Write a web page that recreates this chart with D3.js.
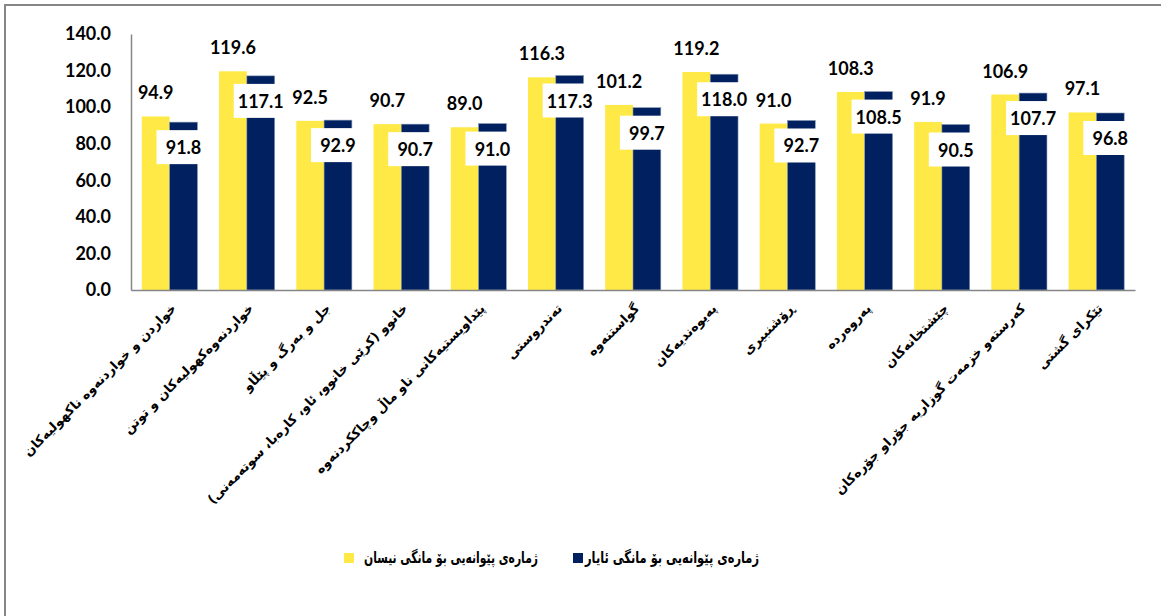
<!DOCTYPE html>
<html>
<head>
<meta charset="utf-8">
<script src="https://cdn.jsdelivr.net/npm/d3@7"></script>
<style>
  body { margin: 0; background: #fff; }
  svg text { font-family: Lato, "DejaVu Sans", sans-serif; font-weight: bold; }
  .catlabel { font-family: "DejaVu Sans", sans-serif; }
</style>
</head>
<body>
<svg id="chart" width="1161" height="616"></svg>
<script>
const categories = [
    "خواردن و خواردنەوە ناکهولیەکان",
    "خواردنەوەکهولیەکان و توتن",
    "جل و بەرگ و پێڵاو",
    "خانوو (کرێی خانوو، ئاو، کارەبا، سوتەمەنی)",
    "پێداویستیەکانی ناو ماڵ وچاککردنەوە",
    "تەندروستی",
    "گواستنەوە",
    "پەیوەندیەکان",
    "ڕۆشنبیری",
    "پەروەردە",
    "چێشتخانەکان",
    "کەرستەو خزمەت گوزاریە جۆراو جۆرەکان",
    "تێکرای گشتی"
];
const nisanValues = [94.9, 119.6, 92.5, 90.7, 89.0, 116.3, 101.2, 119.2, 91.0, 108.3, 91.9, 106.9, 97.1];
const ayarValues = [91.8, 117.1, 92.9, 90.7, 91.0, 117.3, 99.7, 118.0, 92.7, 108.5, 90.5, 107.7, 96.8];
const seriesNames = ["ژمارەی پێوانەیی بۆ مانگی نیسان", "ژمارەی پێوانەیی بۆ مانگی ئایار"];
const yTicks = [0, 20, 40, 60, 80, 100, 120, 140];

const svg = d3.select("svg#chart");
const colors = ["#FFE946", "#002060"];
const margin = { top: 34, left: 131 };
const plotRight = 1135;
const plotBottom = 290;

// outer frame (left + top edges only)
svg.append("path")
    .attr("d", "M5,616 V5 H1161")
    .attr("fill", "none")
    .attr("stroke", "#868686")
    .attr("stroke-width", 2);

const x = d3.scaleBand().domain(categories).range([margin.left, plotRight])
    .paddingInner(0.28).paddingOuter(0.14);
const xs = d3.scaleBand().domain([0, 1]).range([0, x.bandwidth()]);
const y = d3.scaleLinear().domain([0, 140]).range([plotBottom, margin.top]);

const series = [nisanValues, ayarValues];

// bars
series.forEach((vals, si) => {
    svg.append("g").selectAll("rect")
        .data(vals)
        .join("rect")
        .attr("x", (d, i) => x(categories[i]) + xs(si))
        .attr("y", d => y(d))
        .attr("width", xs.bandwidth())
        .attr("height", d => plotBottom - y(d))
        .attr("fill", colors[si])
        .attr("stroke", si === 1 ? "#8496B0" : "none")
        .attr("stroke-width", si === 1 ? 0.6 : 0);
});

// y axis
let leftAxis = d3.axisLeft(y).tickValues(yTicks).tickFormat(d3.format(".1f")).tickSize(0).tickPadding(20);
let leftG = svg.append("g")
    .attr("transform", `translate(${margin.left},0)`)
    .call(leftAxis);
leftG.select(".domain").attr("stroke", "#868686").attr("stroke-width", 1.5);
leftG.selectAll("text")
    .attr("font-size", 18)
    .attr("fill", "#000")
    .style("font-family", "Lato, sans-serif");

// x axis line
let bottomAxis = d3.axisBottom(x).tickSize(0).tickFormat("");
let bottomG = svg.append("g")
    .attr("transform", `translate(0,${plotBottom})`)
    .call(bottomAxis);
bottomG.select(".domain").attr("stroke", "#868686").attr("stroke-width", 1.5);

// value labels
const labels = svg.append("g");
series.forEach((vals, si) => {
    vals.forEach((v, i) => {
        const cx = x(categories[i]) + xs(si) + xs.bandwidth() / 2;
        const cy = si === 0 ? y(v) - 24 : y(v) + 25;
        if (si === 1) {
            labels.append("rect")
                .attr("x", cx - 27)
                .attr("y", cy - 17)
                .attr("width", 54)
                .attr("height", 34)
                .attr("fill", "#fff");
        }
        labels.append("text")
            .attr("x", cx)
            .attr("y", cy)
            .attr("text-anchor", "middle")
            .attr("dominant-baseline", "central")
            .attr("font-size", 18)
            .text(d3.format(".1f")(v));
    });
});

// category labels, rotated
svg.append("g").selectAll("text")
    .data(categories)
    .join("text")
    .attr("class", "catlabel")
    .attr("transform", d => `translate(${x(d) + x.bandwidth() / 2 + 4},${plotBottom + 16}) rotate(-45)`)
    .attr("direction", "rtl")
    .attr("text-anchor", "start")
    .attr("dominant-baseline", "central")
    .attr("font-size", 13)
    .text(d => d);

// legend
const legend = svg.append("g");
const legendItems = [
    { name: seriesNames[0], color: colors[0], sq: 344, mid: 451 },
    { name: seriesNames[1], color: colors[1], sq: 573, mid: 672 }
];
legendItems.forEach(it => {
    legend.append("rect")
        .attr("x", it.sq).attr("y", 553)
        .attr("width", 10).attr("height", 10)
        .attr("fill", it.color);
    legend.append("text")
        .attr("class", "catlabel")
        .attr("x", it.mid)
        .attr("y", 557)
        .attr("text-anchor", "middle")
        .attr("dominant-baseline", "central")
        .attr("font-size", 16)
        .attr("textLength", 174)
        .attr("lengthAdjust", "spacingAndGlyphs")
        .text(it.name);
});
</script>
</body>
</html>
